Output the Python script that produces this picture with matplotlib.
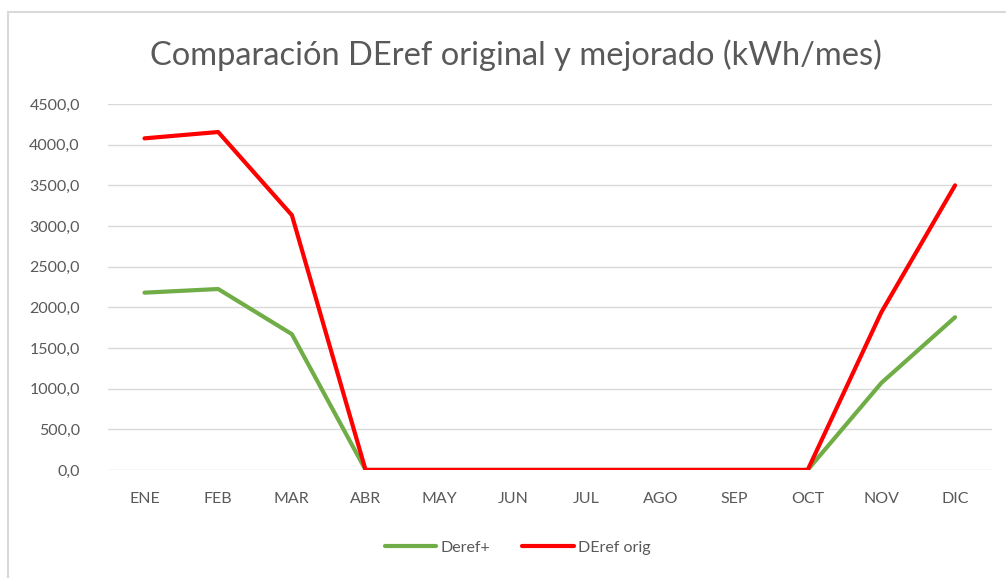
from matplotlib import pyplot as plt
from matplotlib.ticker import FuncFormatter
import numpy as np

plt.rcParams['font.family'] = ['Lato', 'DejaVu Sans']

meses = ['ENE', 'FEB', 'MAR', 'ABR', 'MAY', 'JUN', 'JUL', 'AGO', 'SEP', 'OCT', 'NOV', 'DIC']
deref_mejorado = [2180, 2225, 1670, 0, 0, 0, 0, 0, 0, 0, 1070, 1878]
deref_orig = [4078, 4156, 3133, 0, 0, 0, 0, 0, 0, 0, 1940, 3500]

fig = plt.figure(figsize=(10.06, 5.78), dpi=100)
ax = fig.add_axes([0.107, 0.187, 0.879, 0.633])

x = np.arange(len(meses))
ax.plot(x, deref_mejorado, color='#70AD47', lw=3, label='Deref+', solid_capstyle='round')
ax.plot(x, deref_orig, color='#FF0000', lw=3, label='DEref orig', solid_capstyle='round')

ax.set_xlim(-0.5, len(meses) - 0.5)
ax.set_ylim(0, 4500)
ax.set_yticks(np.arange(0, 4501, 500))
ax.yaxis.set_major_formatter(FuncFormatter(lambda v, p: '{:.1f}'.format(v).replace('.', ',')))
ax.set_xticks(x)
ax.set_xticklabels(meses)

ax.grid(axis='y', color='#D9D9D9', lw=1)
ax.set_axisbelow(True)
for s in ax.spines.values():
    s.set_visible(False)
ax.tick_params(length=0, colors='#595959', labelsize=11.5)
ax.tick_params(axis='x', pad=16)
ax.tick_params(axis='y', pad=20)

fig.text(0.513, 0.905, 'Comparación DEref original y mejorado (kWh/mes)',
         ha='center', va='center', fontsize=23.5, color='#595959')

ax.legend(loc='center', bbox_to_anchor=(0.464, -0.213), ncol=2, frameon=False,
          fontsize=11.5, labelcolor='#595959', handlelength=3.2, columnspacing=2.0,
          handletextpad=0.3)

# borde del grafico
fig.patches.append(plt.Rectangle((0.008, -0.05), 1.1, 1.029, transform=fig.transFigure,
                                 fill=False, edgecolor='#D9D9D9', lw=1.5))

plt.savefig('out.png', dpi=100)
